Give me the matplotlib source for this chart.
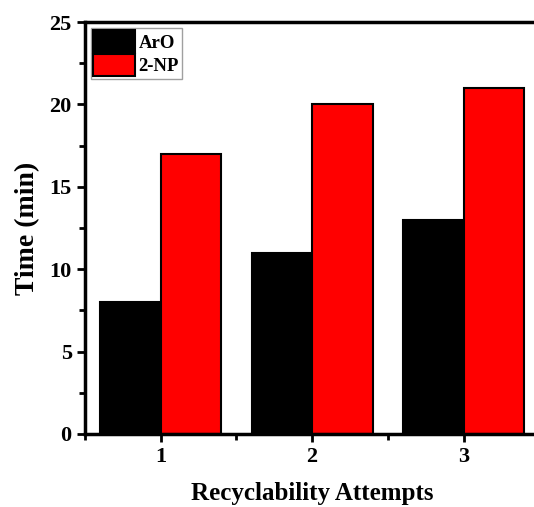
import matplotlib
matplotlib.use('Agg')
import matplotlib.pyplot as plt
import matplotlib.ticker as ticker
import numpy as np

attempts = [1, 2, 3]
aro = [8, 11, 13]
two_np = [17, 20, 21]
width = 0.4

plt.rcParams['font.family'] = 'Liberation Serif'
plt.rcParams['font.weight'] = 'bold'

fig = plt.figure(figsize=(5.34, 5.07), dpi=100)
ax = fig.add_axes([0.159, 0.144, 0.851, 0.8126])

x = np.array(attempts)
ax.bar(x - width / 2, aro, width, color='black', edgecolor='black', linewidth=1.5, label='ArO')
ax.bar(x + width / 2, two_np, width, color='#ff0000', edgecolor='black', linewidth=1.5, label='2-NP')

ax.set_xlim(0.5, 3.5)
ax.set_ylim(0, 25)
ax.set_xticks(attempts)
ax.yaxis.set_major_locator(ticker.MultipleLocator(5))
ax.yaxis.set_minor_locator(ticker.MultipleLocator(2.5))
ax.xaxis.set_minor_locator(ticker.MultipleLocator(0.5))
ax.tick_params(which='major', direction='out', length=6, width=2, labelsize=16)
ax.tick_params(which='minor', direction='out', length=4, width=2)
for s in ax.spines.values():
    s.set_linewidth(2.5)

ax.set_xlabel('Recyclability Attempts', fontsize=18, fontweight='bold', labelpad=11)
ax.set_ylabel('Time (min)', fontsize=20, fontweight='bold', labelpad=7)

leg = ax.legend(loc='upper left', fontsize=13.5, frameon=True, fancybox=False,
                edgecolor='#888888', handlelength=2.2, handleheight=1.45,
                borderpad=0.15, labelspacing=0.05, handletextpad=0.2,
                borderaxespad=0.3)
leg.get_frame().set_linewidth(1)

fig.savefig('out.png', dpi=100)
